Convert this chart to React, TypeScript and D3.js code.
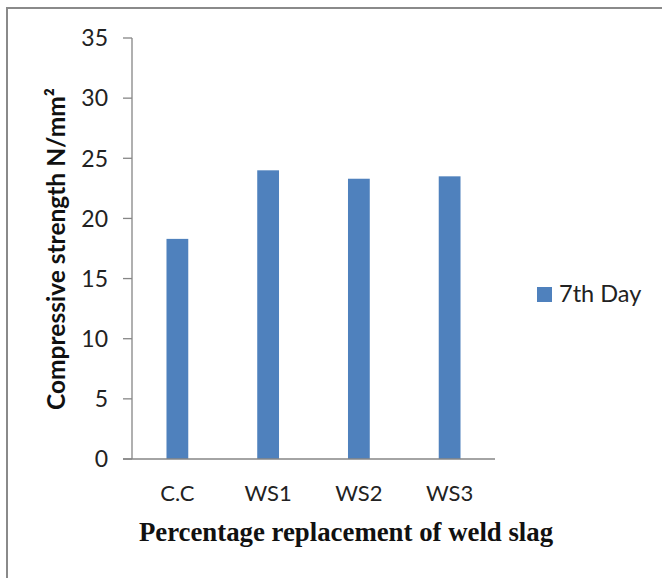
import React from 'react';
import * as d3 from 'd3';

const categories = ['C.C', 'WS1', 'WS2', 'WS3'];
const day7 = [18.3, 24.0, 23.3, 23.5];
const yTicks = [0, 5, 10, 15, 20, 25, 30, 35];
const seriesName = '7th Day';

const W = 662;
const H = 578;
const plot = { left: 132, right: 495, top: 38, bottom: 459 };
const barColor = '#4F81BD';
const axisColor = '#868686';
const sans = 'Lato, "Open Sans", sans-serif';

const App = () => {
  const x = d3
    .scaleBand<string>()
    .domain(categories)
    .range([plot.left, plot.right])
    .paddingInner(0.76)
    .paddingOuter(0.38);

  const y = d3.scaleLinear().domain([0, 35]).range([plot.bottom, plot.top]);

  return (
    <svg width={W} height={H} style={{ position: 'absolute', left: 0, top: 0, background: '#fff' }}>
      {/* frame */}
      <line x1={7} x2={7} y1={8} y2={H} stroke="#8a8a8a" strokeWidth={2} />
      <line x1={6} x2={W} y1={8} y2={8} stroke="#8a8a8a" strokeWidth={2} />

      {/* y axis */}
      <line x1={plot.left} x2={plot.left} y1={y(35)} y2={plot.bottom} stroke={axisColor} strokeWidth={1.3} />
      {yTicks.map((t) => (
        <g key={t}>
          <line x1={plot.left - 9} x2={plot.left} y1={y(t)} y2={y(t)} stroke={axisColor} strokeWidth={1.3} />
          <text
            x={plot.left - 24}
            y={y(t)}
            dy="0.36em"
            textAnchor="end"
            fontFamily={sans}
            fontSize={23}
            fill="#222"
          >
            {t}
          </text>
        </g>
      ))}

      {/* bars */}
      {categories.map((c, i) => (
        <rect
          key={c}
          x={x(c)!}
          y={y(day7[i])}
          width={x.bandwidth()}
          height={y(0) - y(day7[i])}
          fill={barColor}
        />
      ))}

      {/* x axis */}
      <line x1={plot.left - 9} x2={plot.right} y1={plot.bottom} y2={plot.bottom} stroke={axisColor} strokeWidth={1.3} />
      {categories.map((c) => (
        <text
          key={c}
          x={x(c)! + x.bandwidth() / 2}
          y={501}
          textAnchor="middle"
          fontFamily={sans}
          fontSize={22}
          fill="#222"
        >
          {c}
        </text>
      ))}

      {/* axis titles */}
      <text
        x={346}
        y={541}
        textAnchor="middle"
        fontFamily='"Liberation Serif", "Times New Roman", serif'
        fontWeight="bold"
        fontSize={26.8}
        fill="#111"
      >
        Percentage replacement of weld slag
      </text>
      <text
        transform={`translate(65, 249) rotate(-90)`}
        textAnchor="middle"
        fontFamily={sans}
        fontWeight="bold"
        fontSize={24.5}
        fill="#111"
      >
        Compressive strength N/mm²
      </text>

      {/* legend */}
      <rect x={537} y={287} width={15} height={15} fill={barColor} />
      <text x={559} y={302} fontFamily={sans} fontSize={23.5} fill="#222">
        {seriesName}
      </text>
    </svg>
  );
};

export default App;
